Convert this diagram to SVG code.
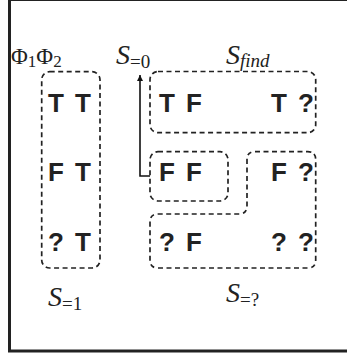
<svg xmlns="http://www.w3.org/2000/svg" width="347" height="357" viewBox="0 0 347 357">
  <style>
    .frame { fill: none; stroke: #222; stroke-width: 3; }
    .set { fill: none; stroke: #222; stroke-width: 1.7; stroke-dasharray: 5 3.5; }
    .cell { font-family: "Liberation Sans", Arial, sans-serif; font-weight: bold; font-size: 26px; fill: #222; text-anchor: middle; }
    .math { font-family: "Liberation Serif", "Times New Roman", serif; fill: #222; }
    .big { font-size: 28px; font-style: italic; }
    .sub { font-size: 19px; font-style: normal; }
    .subi { font-size: 19px; font-style: italic; }
    .link { fill: none; stroke: #111; stroke-width: 1.6; }
  </style>
  <defs>
    <marker id="arrow" viewBox="0 0 10 10" refX="10" refY="5" markerWidth="6" markerHeight="6" markerUnits="userSpaceOnUse" orient="auto">
      <path d="M0,0 L10,5 L0,10 Z" fill="#111"/>
    </marker>
  </defs>

  <rect x="0" y="0" width="347" height="357" fill="#fff"/>
  <rect class="frame" x="9.5" y="-0.5" width="400" height="351.5"/>

  <!-- header: Phi1 Phi2 -->
  <text class="math" x="11" y="64" font-size="23">Φ<tspan font-size="17" dy="3">1</tspan><tspan dy="-3">Φ</tspan><tspan font-size="17" dy="3">2</tspan></text>

  <!-- S=1 : both formulas true -->
  <g id="s-eq-1">
    <rect class="set" x="41.7" y="71.7" width="58.3" height="196.3" rx="8"/>
    <text class="cell" x="69.5" y="112" word-spacing="4">T T</text>
    <text class="cell" x="69.5" y="181" word-spacing="4">F T</text>
    <text class="cell" x="69.5" y="251" word-spacing="4">? T</text>
    <text class="math big" x="48" y="306">S<tspan class="sub" dy="4">=1</tspan></text>
  </g>

  <!-- S_find -->
  <g id="s-find">
    <rect class="set" x="150" y="71.5" width="165.7" height="61.2" rx="8"/>
    <text class="cell" x="180.5" y="112" word-spacing="4">T F</text>
    <text class="cell" x="292.5" y="112" word-spacing="4">T ?</text>
    <text class="math big" x="226" y="64">S<tspan class="subi" dy="3">find</tspan></text>
  </g>

  <!-- S=0 -->
  <g id="s-eq-0">
    <rect class="set" x="150" y="151.7" width="78" height="49.3" rx="8"/>
    <text class="cell" x="180.5" y="181" word-spacing="4">F F</text>
    <text class="math big" x="116" y="64">S<tspan class="sub" dy="4">=0</tspan></text>
  </g>

  <!-- S=? : unknown outcomes -->
  <g id="s-eq-unknown">
    <path class="set" d="M255,151.7 H307.7 Q315.7,151.7 315.7,159.7 V260 Q315.7,268 307.7,268 H158 Q150,268 150,260 V222 Q150,214 158,214 H239 Q247,214 247,206 V159.7 Q247,151.7 255,151.7 Z"/>
    <text class="cell" x="292.5" y="181" word-spacing="4">F ?</text>
    <text class="cell" x="180.5" y="251" word-spacing="4">? F</text>
    <text class="cell" x="292.5" y="251" word-spacing="4">? ?</text>
    <text class="math big" x="226" y="302">S<tspan class="sub" dy="4">=?</tspan></text>
  </g>

  <g id="connectors">
    <path class="link" d="M150,176 H140 V75" marker-end="url(#arrow)"/>
  </g>
</svg>
